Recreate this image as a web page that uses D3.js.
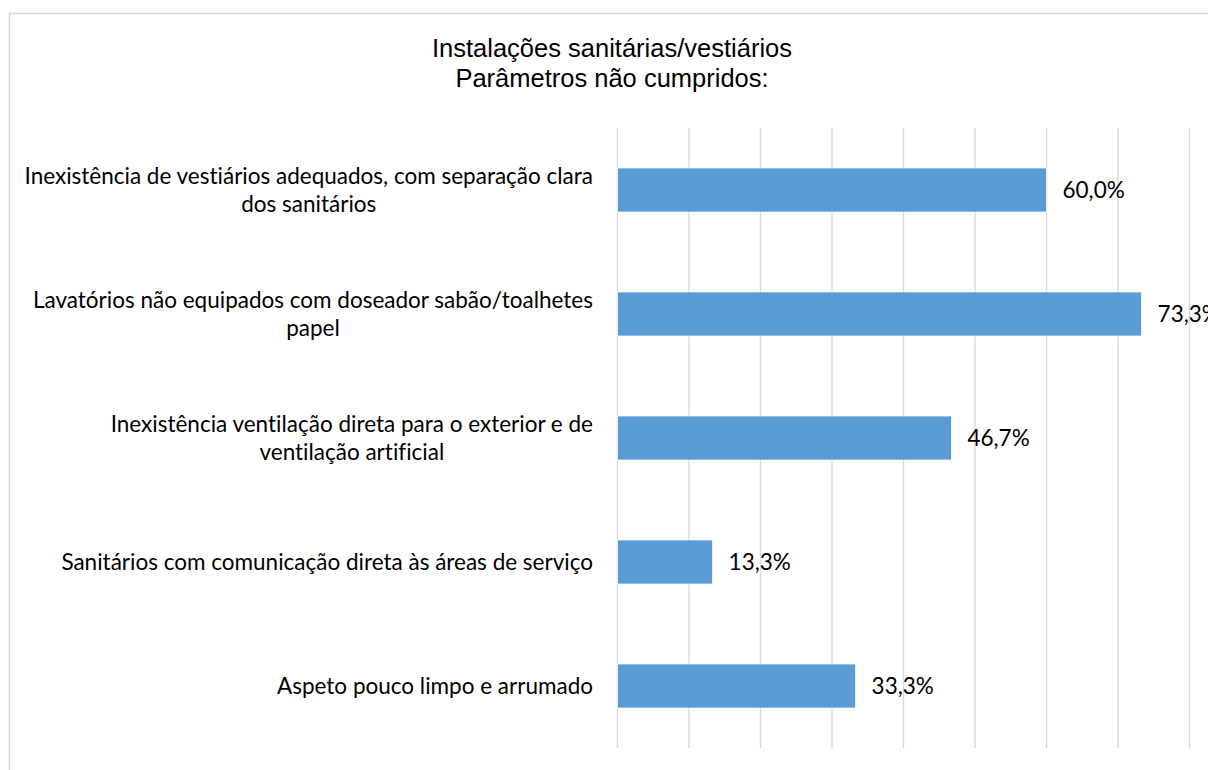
<!DOCTYPE html>
<html><head><meta charset="utf-8">
<script src="https://cdn.jsdelivr.net/npm/d3@7/dist/d3.min.js"></script>
<style>body{margin:0;background:#fff}svg{display:block}text{font-variant-ligatures:none;font-feature-settings:"liga" 0}</style>
</head><body>
<script>
const titleLines = ["Instalações sanitárias/vestiários", "Parâmetros não cumpridos:"];
const categories = [
  ["Inexistência de vestiários adequados, com separação clara", "dos sanitários"],
  ["Lavatórios não equipados com doseador sabão/toalhetes", "papel"],
  ["Inexistência ventilação direta para o exterior e de", "ventilação artificial"],
  ["Sanitários com comunicação direta às áreas de serviço"],
  ["Aspeto pouco limpo e arrumado"]
];
const values = [60.0, 73.3, 46.7, 13.3, 33.3];
const valueLabels = ["60,0%", "73,3%", "46,7%", "13,3%", "33,3%"];
const gridTicks = [0, 10, 20, 30, 40, 50, 60, 70, 80];

const W = 1208, H = 770;
const svg = d3.select("body").append("svg").attr("width", W).attr("height", H);

svg.append("rect").attr("x", 9.5).attr("y", 13.5).attr("width", 1400).attr("height", 1000)
  .attr("fill", "#fff").attr("stroke", "#d9d9d9").attr("stroke-width", 1.5);

const x = d3.scaleLinear().domain([0, 80]).range([617.5, 1189.5]);
const y = d3.scaleBand().domain(d3.range(categories.length)).range([128, 748]).paddingInner(0.645).paddingOuter(0.3225);

svg.append("g").selectAll("line").data(gridTicks).join("line")
  .attr("x1", d => x(d)).attr("x2", d => x(d))
  .attr("y1", 128).attr("y2", 748)
  .attr("stroke", "#d9d9d9").attr("stroke-width", 1.4);

svg.append("g").selectAll("rect").data(values).join("rect")
  .attr("x", x(0)).attr("y", (d, i) => y(i))
  .attr("width", d => x(d) - x(0)).attr("height", y.bandwidth())
  .attr("fill", "#5b9bd5").attr("stroke", "#fff").attr("stroke-width", 0.75);

const FONT = "Lato, 'Open Sans', sans-serif";
const FS = 22.5;

svg.append("g").selectAll("text").data(values).join("text")
  .attr("x", d => x(d) + 16).attr("y", (d, i) => y(i) + y.bandwidth() / 2)
  .attr("dy", "0.35em")
  .attr("font-family", FONT).attr("font-size", FS)
  .attr("fill", "#000")
  .text((d, i) => valueLabels[i]);

const labG = svg.append("g");
categories.forEach((lines, i) => {
  const cy = y(i) + y.bandwidth() / 2;
  const lh = 28;
  const t = labG.append("text")
    .attr("font-family", FONT).attr("font-size", FS)
    .attr("fill", "#000").attr("text-anchor", "middle");
  lines.forEach((ln, j) => {
    t.append("tspan").attr("x", 0)
      .attr("y", cy + (j - (lines.length - 1) / 2) * lh)
      .attr("dy", "0.35em").text(ln);
  });
  let maxW = 0;
  t.selectAll("tspan").each(function() { maxW = Math.max(maxW, this.getComputedTextLength()); });
  const cx = 593 - maxW / 2;
  t.selectAll("tspan").attr("x", cx);
});

const tt = svg.append("text").attr("text-anchor", "middle")
  .attr("font-family", "'Liberation Sans', Arial, sans-serif").attr("font-size", 25.5)
  .attr("fill", "#000");
titleLines.forEach((ln, j) => {
  tt.append("tspan").attr("x", 612).attr("y", 57 + j * 30).text(ln);
});
</script>
</body></html>
